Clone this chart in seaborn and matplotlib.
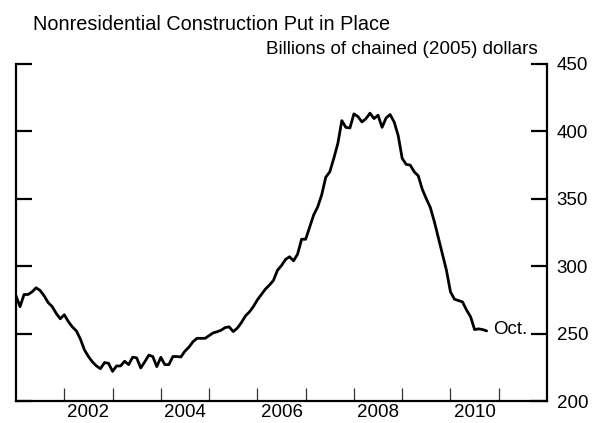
import numpy as np
import pandas as pd
import matplotlib
matplotlib.use("Agg")
import matplotlib.pyplot as plt
import seaborn as sns

# Monthly values, Jan 2001 - Oct 2010 (billions of chained 2005 dollars)
values = [
    278, 270, 279, 279, 281, 284, 282, 278, 273, 270, 265, 261,
    264, 259, 255, 252, 246, 238, 233, 229, 226, 224, 228.5, 228,
    222, 226, 226, 229.5, 227, 232.5, 232, 224.5, 229, 234, 233, 225.5,
    232.4, 227, 227, 233, 233, 232.7, 237, 240, 244, 246.5, 246.5, 246.5,
    248.5, 250.5, 251.4, 252.5, 254.5, 255, 251.5, 254, 258, 263, 266, 270,
    275, 279, 283, 286, 289.5, 297, 300.5, 305, 307, 304, 309, 320,
    320, 329, 338, 344, 353, 366, 370, 380, 391, 408, 403, 402.5,
    413, 411, 407, 409.5, 413.5, 409.5, 412, 403, 410, 412.5, 407, 397,
    380, 375.5, 375, 370, 367, 357, 350, 343.5, 333, 321, 309, 297,
    281, 275.5, 274.5, 273.5, 267.5, 262.5, 253, 253.5, 253, 252,
]
dates = pd.date_range("2001-01-01", periods=len(values), freq="MS")
year_labels = ["2002", "2004", "2006", "2008", "2010"]
y_ticks = [200, 250, 300, 350, 400, 450]

title = "Nonresidential Construction Put in Place"
subtitle = "Billions of chained (2005) dollars"
end_label = "Oct."

df = pd.DataFrame({
    "t": dates.year + (dates.month - 1) / 12.0,
    "v": values,
})

sns.set_theme(style="white")
plt.rcParams["font.family"] = ["Liberation Sans", "DejaVu Sans"]

fig = plt.figure(figsize=(6.01, 4.23), dpi=100)
ax = fig.add_axes([16 / 601, 1 - 401 / 423, (547 - 16) / 601, (401 - 64) / 423])

sns.lineplot(data=df, x="t", y="v", ax=ax, color="black", linewidth=2.0)

ax.set_xlim(2001, 2012)
ax.set_ylim(200, 450)
ax.set_xlabel("")
ax.set_ylabel("")

for s in ["left", "right", "bottom"]:
    ax.spines[s].set_visible(True)
    ax.spines[s].set_color("black")
    ax.spines[s].set_linewidth(1.6)
ax.spines["top"].set_visible(False)

# y axis: labels right, ticks in on both sides
ax.set_yticks(y_ticks)
ax.set_yticklabels([str(v) for v in y_ticks])
ax.tick_params(axis="y", which="major", left=True, right=True, labelleft=False,
               labelright=True, direction="in", length=11.5, width=1.6,
               color="black", labelsize=13.5, pad=7, labelcolor="black")
ax.set_yticks([450], minor=True)
ax.tick_params(axis="y", which="minor", left=True, right=True, direction="in",
               length=18, width=1.6, color="black")

# x axis: ticks at year boundaries, labels at mid-year
ax.set_xticks(list(range(2002, 2012)))
ax.set_xticklabels([""] * 10)
ax.tick_params(axis="x", which="major", bottom=True, direction="in", length=9.5,
               width=0.9, color="#333333")
ax.set_xticks([int(y) + 0.5 for y in year_labels], minor=True)
ax.set_xticklabels(year_labels, minor=True)
ax.tick_params(axis="x", which="minor", bottom=True, length=0, labelsize=13.5,
               pad=2.5, labelcolor="black")

ax.grid(False)

last_t = df["t"].iloc[-1]
last_v = df["v"].iloc[-1]
ax.annotate(end_label, xy=(last_t, last_v), xytext=(5, 1), textcoords="offset points",
            fontsize=13.5, va="center", ha="left", color="black")

fig.text(33 / 601, 1 - 30 / 423, title, fontsize=14.3, ha="left", va="baseline", color="black")
fig.text(538 / 601, 1 - 54 / 423, subtitle, fontsize=13.6, ha="right", va="baseline", color="black")

fig.savefig("out.png", dpi=100)
